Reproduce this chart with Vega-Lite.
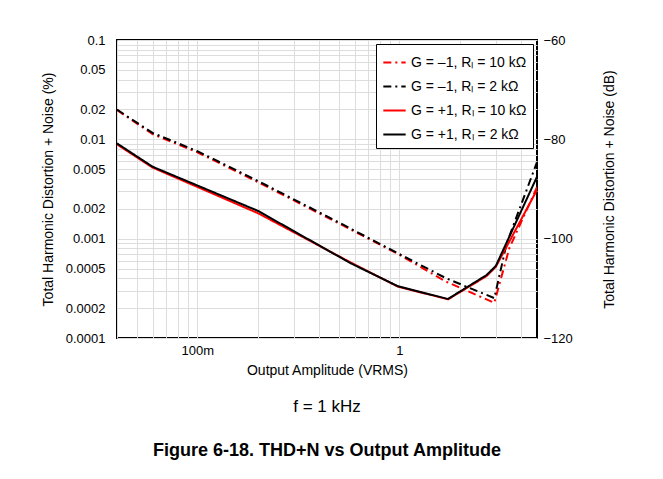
{
  "$schema": "https://vega.github.io/schema/vega-lite/v6.json",
  "autosize": "none",
  "width": 420,
  "height": 298,
  "padding": {"left": 117, "top": 40, "right": 126, "bottom": 141},
  "background": "white",
  "title": {
    "text": "f = 1 kHz",
    "subtitle": "Figure 6-18. THD+N vs Output Amplitude",
    "orient": "bottom",
    "anchor": "middle",
    "offset": 22,
    "font": "Liberation Sans",
    "fontSize": 17,
    "fontWeight": "normal",
    "subtitleFont": "Liberation Sans",
    "subtitleFontSize": 18,
    "subtitleFontWeight": "bold",
    "subtitleColor": "black",
    "subtitlePadding": 26,
    "color": "black"
  },
  "datasets": {
    "curves": [
      {"series": "G = –1, Rₗ = 10 kΩ", "x": 0.04, "y": 0.0197},
      {"series": "G = –1, Rₗ = 10 kΩ", "x": 0.06, "y": 0.0113},
      {"series": "G = –1, Rₗ = 10 kΩ", "x": 0.1, "y": 0.0074},
      {"series": "G = –1, Rₗ = 10 kΩ", "x": 0.2, "y": 0.0037},
      {"series": "G = –1, Rₗ = 10 kΩ", "x": 0.5, "y": 0.00143},
      {"series": "G = –1, Rₗ = 10 kΩ", "x": 1.0, "y": 0.00069},
      {"series": "G = –1, Rₗ = 10 kΩ", "x": 1.7, "y": 0.00037},
      {"series": "G = –1, Rₗ = 10 kΩ", "x": 2.95, "y": 0.000226},
      {"series": "G = –1, Rₗ = 10 kΩ", "x": 3.5, "y": 0.0008},
      {"series": "G = –1, Rₗ = 10 kΩ", "x": 4.8, "y": 0.0033},
      {"series": "G = –1, Rₗ = 2 kΩ", "x": 0.04, "y": 0.0199},
      {"series": "G = –1, Rₗ = 2 kΩ", "x": 0.06, "y": 0.0116},
      {"series": "G = –1, Rₗ = 2 kΩ", "x": 0.1, "y": 0.0076},
      {"series": "G = –1, Rₗ = 2 kΩ", "x": 0.2, "y": 0.0038},
      {"series": "G = –1, Rₗ = 2 kΩ", "x": 0.5, "y": 0.00146},
      {"series": "G = –1, Rₗ = 2 kΩ", "x": 1.0, "y": 0.0007},
      {"series": "G = –1, Rₗ = 2 kΩ", "x": 1.7, "y": 0.0004},
      {"series": "G = –1, Rₗ = 2 kΩ", "x": 2.95, "y": 0.000252},
      {"series": "G = –1, Rₗ = 2 kΩ", "x": 3.4, "y": 0.0009},
      {"series": "G = –1, Rₗ = 2 kΩ", "x": 4.8, "y": 0.0059},
      {"series": "G = +1, Rₗ = 10 kΩ", "x": 0.04, "y": 0.0089},
      {"series": "G = +1, Rₗ = 10 kΩ", "x": 0.06, "y": 0.0052},
      {"series": "G = +1, Rₗ = 10 kΩ", "x": 0.2, "y": 0.0018},
      {"series": "G = +1, Rₗ = 10 kΩ", "x": 0.57, "y": 0.00058},
      {"series": "G = +1, Rₗ = 10 kΩ", "x": 0.98, "y": 0.00033},
      {"series": "G = +1, Rₗ = 10 kΩ", "x": 1.74, "y": 0.000245},
      {"series": "G = +1, Rₗ = 10 kΩ", "x": 2.7, "y": 0.00042},
      {"series": "G = +1, Rₗ = 10 kΩ", "x": 3.0, "y": 0.00052},
      {"series": "G = +1, Rₗ = 10 kΩ", "x": 4.8, "y": 0.0031},
      {"series": "G = +1, Rₗ = 2 kΩ", "x": 0.04, "y": 0.0091},
      {"series": "G = +1, Rₗ = 2 kΩ", "x": 0.06, "y": 0.0053},
      {"series": "G = +1, Rₗ = 2 kΩ", "x": 0.2, "y": 0.0019},
      {"series": "G = +1, Rₗ = 2 kΩ", "x": 0.57, "y": 0.00057},
      {"series": "G = +1, Rₗ = 2 kΩ", "x": 0.98, "y": 0.000333},
      {"series": "G = +1, Rₗ = 2 kΩ", "x": 1.74, "y": 0.000247},
      {"series": "G = +1, Rₗ = 2 kΩ", "x": 2.7, "y": 0.00043},
      {"series": "G = +1, Rₗ = 2 kΩ", "x": 3.0, "y": 0.00053},
      {"series": "G = +1, Rₗ = 2 kΩ", "x": 4.8, "y": 0.0042}
    ],
    "db": [{"db": -120}, {"db": -60}]
  },
  "layer": [
    {
      "data": {"name": "curves"},
      "mark": {"type": "line", "strokeWidth": 2, "clip": true},
      "encoding": {
        "x": {
          "field": "x", "type": "quantitative",
          "scale": {"type": "log", "domain": [0.04, 4.8], "nice": false},
          "axis": {
            "title": "Output Amplitude (VRMS)",
            "values": [0.04, 0.05, 0.06, 0.07, 0.08, 0.09, 0.1, 0.2, 0.3, 0.4, 0.5, 0.6, 0.7, 0.8, 0.9, 1, 2, 3, 4],
            "labelExpr": "datum.value == 0.1 ? '100m' : datum.value == 1 ? '1' : ''",
            "ticks": false,
            "labelPadding": 6,
            "titlePadding": 6
          }
        },
        "y": {
          "field": "y", "type": "quantitative",
          "scale": {"type": "log", "domain": [0.0001, 0.1], "nice": false},
          "axis": {
            "title": "Total Harmonic Distortion + Noise (%)",
            "values": [0.0001, 0.0002, 0.0003, 0.0004, 0.0005, 0.0006, 0.0007, 0.0008, 0.0009, 0.001, 0.002, 0.003, 0.004, 0.005, 0.006, 0.007, 0.008, 0.009, 0.01, 0.02, 0.03, 0.04, 0.05, 0.06, 0.07, 0.08, 0.09, 0.1],
            "labelExpr": "indexof([0.0001,0.0002,0.0005,0.001,0.002,0.005,0.01,0.02,0.05,0.1], datum.value) >= 0 ? format(datum.value, '~g') : ''",
            "ticks": false,
            "labelPadding": 12
          }
        },
        "color": {
          "field": "series", "type": "nominal",
          "scale": {
            "domain": ["G = –1, Rₗ = 10 kΩ", "G = –1, Rₗ = 2 kΩ", "G = +1, Rₗ = 10 kΩ", "G = +1, Rₗ = 2 kΩ"],
            "range": ["#ff0000", "#000000", "#ff0000", "#000000"]
          },
          "legend": {"title": null}
        },
        "strokeDash": {
          "field": "series", "type": "nominal",
          "scale": {
            "domain": ["G = –1, Rₗ = 10 kΩ", "G = –1, Rₗ = 2 kΩ", "G = +1, Rₗ = 10 kΩ", "G = +1, Rₗ = 2 kΩ"],
            "range": [[8, 4, 2, 4], [8, 4, 2, 4], [1, 0], [1, 0]]
          },
          "legend": {"title": null}
        }
      }
    },
    {
      "data": {"name": "db"},
      "mark": {"type": "point", "opacity": 0},
      "encoding": {
        "y": {
          "field": "db", "type": "quantitative",
          "scale": {"domain": [-120, -60], "nice": false},
          "axis": {
            "orient": "right",
            "title": "Total Harmonic Distortion + Noise (dB)",
            "titleAngle": 270,
            "titlePadding": 44,
            "values": [-120, -100, -80, -60],
            "grid": false,
            "ticks": false,
            "labelPadding": 6
          }
        }
      }
    }
  ],
  "resolve": {"scale": {"y": "independent"}},
  "config": {
    "font": "Liberation Sans",
    "view": {"stroke": "black", "strokeWidth": 2},
    "axis": {
      "gridColor": "#dddddd",
      "gridWidth": 1,
      "domain": false,
      "labelFontSize": 13,
      "labelColor": "black",
      "titleFontSize": 14,
      "titleFontWeight": "normal",
      "titleColor": "black",
      "tickColor": "black",
      "titlePadding": 10
    },
    "legend": {
      "orient": "top-right",
      "offset": 4,
      "fillColor": "white",
      "strokeColor": "black",
      "padding": 6,
      "labelFontSize": 14,
      "labelColor": "black",
      "symbolType": "stroke",
      "symbolSize": 500,
      "symbolStrokeWidth": 2,
      "rowPadding": 4
    }
  }
}
